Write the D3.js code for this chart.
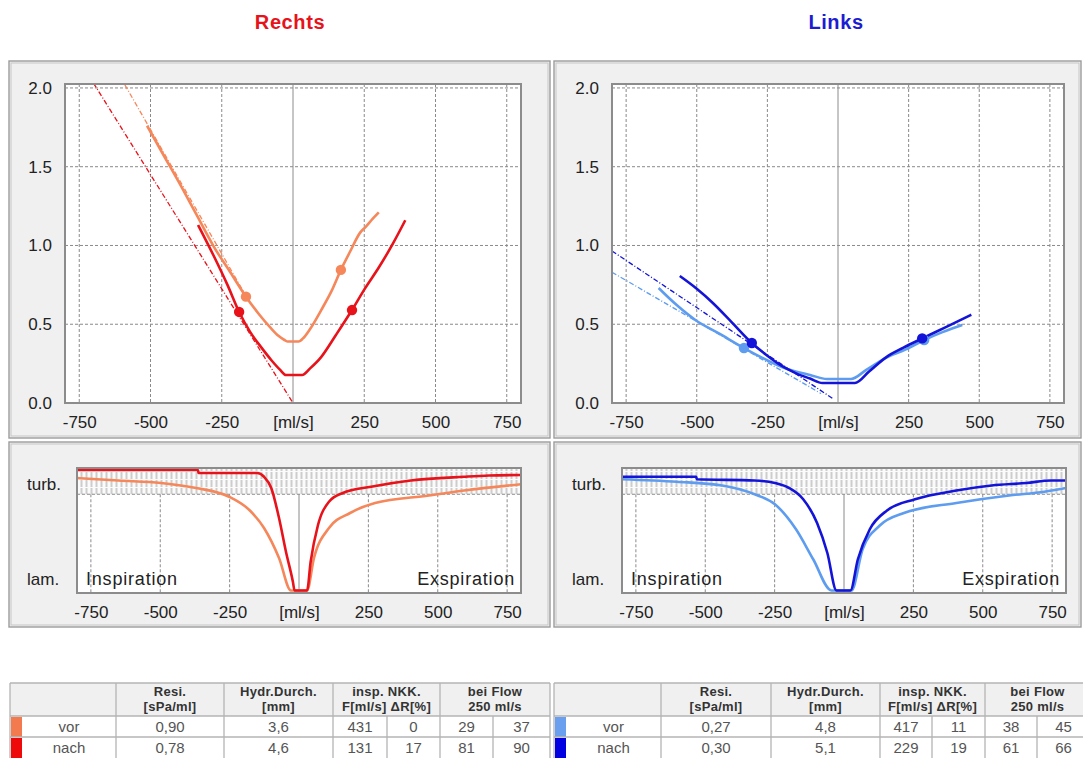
<!DOCTYPE html>
<html>
<head>
<meta charset="utf-8">
<script src="https://cdn.jsdelivr.net/npm/d3@7"></script>
<style>
  body { margin: 0; background: #fff; }
  svg { display: block; font-family: "Liberation Sans", Arial, sans-serif; }
</style>
</head>
<body>
<svg id="chart" width="1083" height="758"></svg>
<script>
// ---- axis ticks -------------------------------------------------------
const flowTicks = [-750, -500, -250, 0, 250, 500, 750];
const resTicks = [0, 0.5, 1.0, 1.5, 2.0];
const turbTicks = [0.11, 0.87];
const turbTickLabels = ["lam.", "turb."];
const turbBandFrom = 0.79;

// ---- Rechts: resistance [flow, value] --------------------------------
const rechtsVorCurve = [[-512,1.76],[-450,1.56],[-400,1.40],[-340,1.20],[-277,0.99],[-220,0.83],[-165,0.675],[-120,0.565],[-80,0.48],[-50,0.425],[-30,0.40],[-18,0.39],[20,0.39],[35,0.41],[60,0.47],[99,0.59],[135,0.71],[168,0.845],[200,0.96],[235,1.08],[256,1.12],[280,1.17],[301,1.21]];
const rechtsNachCurve = [[-333,1.13],[-277,0.93],[-230,0.75],[-189,0.578],[-150,0.45],[-110,0.35],[-75,0.27],[-45,0.21],[-25,0.178],[32,0.178],[60,0.22],[98,0.29],[150,0.43],[207,0.59],[250,0.72],[301,0.86],[350,1.01],[394,1.16]];
const rechtsVorMarks = [[-165,0.675],[168,0.845]];
const rechtsNachMarks = [[-189,0.578],[207,0.59]];
const rechtsVorFit = [[-590,2.02],[-151,0.635]];
const rechtsNachFit = [[-700,2.03],[0,0]];

// ---- Rechts: turbulence [flow, fraction] -----------------------------
const rechtsVorTurb = [[-800,0.92],[-650,0.90],[-497,0.88],[-371,0.84],[-252,0.77],[-177,0.66],[-126,0.52],[-72,0.28],[-29,0.02],[29,0.02],[54,0.28],[108,0.52],[184,0.64],[274,0.72],[468,0.78],[595,0.82],[800,0.87]];
const rechtsNachTurb = [[-800,0.984],[-364,0.984],[-362,0.96],[-151,0.96],[-126,0.93],[-100,0.84],[-72,0.60],[-47,0.33],[-22,0.09],[-16,0.02],[29,0.02],[42,0.25],[68,0.54],[108,0.73],[158,0.80],[260,0.85],[403,0.90],[595,0.93],[685,0.94],[800,0.944]];

// ---- Links: resistance -------------------------------------------------
const linksVorCurve = [[-635,0.73],[-570,0.62],[-505,0.527],[-420,0.44],[-333,0.349],[-260,0.28],[-199,0.229],[-150,0.20],[-99,0.178],[-39,0.152],[46,0.152],[100,0.21],[170,0.286],[240,0.34],[305,0.40],[370,0.45],[440,0.495]];
const linksNachCurve = [[-560,0.806],[-500,0.725],[-443,0.635],[-380,0.52],[-305,0.381],[-250,0.30],[-199,0.235],[-150,0.19],[-99,0.155],[-55,0.127],[60,0.127],[110,0.20],[170,0.29],[230,0.35],[298,0.41],[380,0.48],[472,0.56]];
const linksVorMarks = [[-333,0.349],[305,0.40]];
const linksNachMarks = [[-305,0.381],[298,0.41]];
const linksVorFit = [[-800,0.83],[-60,0.06]];
const linksNachFit = [[-800,0.965],[-20,0.03]];

// ---- Links: turbulence ------------------------------------------------
const linksVorTurb = [[-800,0.91],[-603,0.89],[-439,0.86],[-322,0.79],[-249,0.71],[-173,0.51],[-111,0.27],[-45,0.02],[27,0.02],[67,0.35],[129,0.54],[216,0.64],[405,0.72],[595,0.78],[722,0.81],[800,0.84]];
const linksNachTurb = [[-800,0.93],[-533,0.93],[-530,0.91],[-322,0.90],[-249,0.88],[-198,0.84],[-147,0.75],[-97,0.56],[-60,0.32],[-27,0.02],[23,0.02],[50,0.27],[93,0.51],[155,0.66],[256,0.75],[405,0.82],[532,0.86],[657,0.88],[747,0.90],[800,0.90]];

// ---- summary tables ----------------------------------------------------
const tableHeaders = [["Resi.", "[sPa/ml]"], ["Hydr.Durch.", "[mm]"], ["insp. NKK.", "F[ml/s] \u0394R[%]"], ["bei Flow", "250 ml/s"]];
const rowLabels = ["vor", "nach"];
const rechtsTable = [["0,90", "3,6", "431", "0", "29", "37"], ["0,78", "4,6", "131", "17", "81", "90"]];
const linksTable = [["0,27", "4,8", "417", "11", "38", "45"], ["0,30", "5,1", "229", "19", "61", "66"]];

const svg = d3.select("#chart");
const defs = svg.append("defs");

// vertical hatch for the turbulent band
const hatch = defs.append("pattern").attr("id", "hatch")
  .attr("patternUnits", "userSpaceOnUse").attr("width", 5).attr("height", 8);
hatch.append("rect").attr("width", 5).attr("height", 8).attr("fill", "#fbfbfb");
hatch.append("rect").attr("x", 0.5).attr("y", 0).attr("width", 2).attr("height", 7)
  .attr("fill", "#cdcdcd");

const sides = [
  {
    id: "r", title: "Rechts", titleColor: "#e8121a", titleX: 290,
    frameX: 9, frameW: 541,
    top: [65, 521], bot: [77, 521],
    vorColor: "#f5875a", nachColor: "#e8121a",
    vorCurve: rechtsVorCurve, nachCurve: rechtsNachCurve,
    vorMarks: rechtsVorMarks, nachMarks: rechtsNachMarks,
    vorFit: rechtsVorFit, nachFit: rechtsNachFit,
    vorTurb: rechtsVorTurb, nachTurb: rechtsNachTurb,
    table: rechtsTable, cols: [10, 116, 224, 333, 387, 440, 493, 550],
    stripVor: "#f27a4e", stripNach: "#ee0a0a"
  },
  {
    id: "l", title: "Links", titleColor: "#1c1cd0", titleX: 836,
    frameX: 554, frameW: 527,
    top: [612, 1064], bot: [622, 1066],
    vorColor: "#5e9cf0", nachColor: "#1414d8",
    vorCurve: linksVorCurve, nachCurve: linksNachCurve,
    vorMarks: linksVorMarks, nachMarks: linksNachMarks,
    vorFit: linksVorFit, nachFit: linksNachFit,
    vorTurb: linksVorTurb, nachTurb: linksNachTurb,
    table: linksTable, cols: [554, 661, 771, 880, 932, 985, 1037, 1090],
    stripVor: "#6a9ff0", stripNach: "#0000e0"
  }
];

function frame(g, x, y, w, h) {
  g.append("rect").attr("x", x).attr("y", y).attr("width", w).attr("height", h)
    .attr("fill", "#f0f0f0").attr("stroke", "#9c9c9c").attr("stroke-width", 1.4);
  g.append("rect").attr("x", x + 2).attr("y", y + 2).attr("width", w - 4).attr("height", h - 4)
    .attr("fill", "none").attr("stroke", "#c6c6c6").attr("stroke-width", 1);
}

const TOP_Y0 = 84, TOP_Y1 = 403, BOT_Y0 = 468, BOT_Y1 = 593;

sides.forEach(s => {
  const g = svg.append("g");

  // title
  g.append("text").attr("x", s.titleX).attr("y", 29).attr("text-anchor", "middle")
    .attr("font-size", 20).attr("font-weight", "bold").attr("letter-spacing", 0.6)
    .attr("fill", s.titleColor).text(s.title);

  // ================= resistance plot =================
  frame(g, s.frameX, 61, s.frameW, 377);
  const x = d3.scaleLinear().domain([-800, 800]).range(s.top);
  const y = d3.scaleLinear().domain([0, 2.025]).range([TOP_Y1, TOP_Y0]);

  g.append("rect").attr("x", s.top[0]).attr("y", TOP_Y0)
    .attr("width", s.top[1] - s.top[0]).attr("height", TOP_Y1 - TOP_Y0).attr("fill", "#fff");

  const clipId = "clip-top-" + s.id;
  defs.append("clipPath").attr("id", clipId).append("rect")
    .attr("x", s.top[0]).attr("y", TOP_Y0).attr("width", s.top[1] - s.top[0]).attr("height", TOP_Y1 - TOP_Y0);

  const grid = g.append("g");
  grid.selectAll(".hg").data(resTicks.filter(d => d > 0)).join("line")
    .attr("x1", s.top[0]).attr("x2", s.top[1]).attr("y1", d => y(d)).attr("y2", d => y(d))
    .attr("stroke", "#8a8a8a").attr("stroke-width", 1).attr("stroke-dasharray", "3,2");
  grid.selectAll(".vg").data(flowTicks).join("line")
    .attr("x1", d => x(d)).attr("x2", d => x(d)).attr("y1", TOP_Y0).attr("y2", TOP_Y1)
    .attr("stroke", d => d === 0 ? "#8c8c8c" : "#8a8a8a").attr("stroke-width", 1)
    .attr("stroke-dasharray", d => d === 0 ? null : "3,2");

  const plot = g.append("g").attr("clip-path", `url(#${clipId})`);
  const line = d3.line().x(d => x(d[0])).y(d => y(d[1])).curve(d3.curveMonotoneX);
  const fitLine = d3.line().x(d => x(d[0])).y(d => y(d[1]));

  plot.append("path").datum(s.vorFit).attr("d", fitLine).attr("fill", "none")
    .attr("stroke", s.vorColor).attr("stroke-width", 1.3).attr("stroke-dasharray", "5,2,1,2");
  plot.append("path").datum(s.nachFit).attr("d", fitLine).attr("fill", "none")
    .attr("stroke", s.nachColor).attr("stroke-width", 1.3).attr("stroke-dasharray", "5,2,1,2");

  plot.append("path").datum(s.vorCurve).attr("d", line).attr("fill", "none")
    .attr("stroke", s.vorColor).attr("stroke-width", 2.6).attr("stroke-linejoin", "round");
  plot.append("path").datum(s.nachCurve).attr("d", line).attr("fill", "none")
    .attr("stroke", s.nachColor).attr("stroke-width", 2.6).attr("stroke-linejoin", "round");

  plot.selectAll(".mv").data(s.vorMarks).join("circle")
    .attr("cx", d => x(d[0])).attr("cy", d => y(d[1])).attr("r", 5.2).attr("fill", s.vorColor);
  plot.selectAll(".mn").data(s.nachMarks).join("circle")
    .attr("cx", d => x(d[0])).attr("cy", d => y(d[1])).attr("r", 5.2).attr("fill", s.nachColor);

  g.append("rect").attr("x", s.top[0]).attr("y", TOP_Y0)
    .attr("width", s.top[1] - s.top[0]).attr("height", TOP_Y1 - TOP_Y0)
    .attr("fill", "none").attr("stroke", "#8c8c8c").attr("stroke-width", 2);

  const yAxis = g.append("g").attr("transform", `translate(${s.top[0]},0)`)
    .call(d3.axisLeft(y).tickValues(resTicks).tickFormat(d3.format(".1f")).tickSize(0).tickPadding(13));
  const xAxis = g.append("g").attr("transform", `translate(0,${TOP_Y1})`)
    .call(d3.axisBottom(x).tickValues(flowTicks).tickFormat(d => d === 0 ? "[ml/s]" : d).tickSize(0).tickPadding(13));
  [yAxis, xAxis].forEach(a => {
    a.select(".domain").remove();
    a.selectAll("text").attr("font-size", 17).attr("fill", "#222")
      .attr("font-family", "\"Liberation Sans\", Arial, sans-serif");
  });

  // ================= turbulence plot =================
  frame(g, s.frameX, 442, s.frameW, 185);
  const xb = d3.scaleLinear().domain([-800, 800]).range(s.bot);
  const yb = d3.scaleLinear().domain([0, 1]).range([BOT_Y1, BOT_Y0]);

  g.append("rect").attr("x", s.bot[0]).attr("y", BOT_Y0)
    .attr("width", s.bot[1] - s.bot[0]).attr("height", BOT_Y1 - BOT_Y0).attr("fill", "#fff");
  g.append("rect").attr("x", s.bot[0]).attr("y", BOT_Y0)
    .attr("width", s.bot[1] - s.bot[0]).attr("height", yb(turbBandFrom) - BOT_Y0).attr("fill", "url(#hatch)");
  g.append("line").attr("x1", s.bot[0]).attr("x2", s.bot[1])
    .attr("y1", yb(turbBandFrom)).attr("y2", yb(turbBandFrom))
    .attr("stroke", "#8a8a8a").attr("stroke-dasharray", "3,2");
  g.selectAll(null).data(flowTicks).join("line")
    .attr("x1", d => xb(d)).attr("x2", d => xb(d)).attr("y1", yb(turbBandFrom)).attr("y2", BOT_Y1)
    .attr("stroke", "#8a8a8a").attr("stroke-width", 1)
    .attr("stroke-dasharray", d => d === 0 ? null : "3,2");

  const clipB = "clip-bot-" + s.id;
  defs.append("clipPath").attr("id", clipB).append("rect")
    .attr("x", s.bot[0]).attr("y", BOT_Y0).attr("width", s.bot[1] - s.bot[0]).attr("height", BOT_Y1 - BOT_Y0);
  const tplot = g.append("g").attr("clip-path", `url(#${clipB})`);

  tplot.append("text").attr("x", s.bot[0] + 9).attr("y", 585).attr("font-size", 18)
    .attr("letter-spacing", 0.8).attr("fill", "#222").text("Inspiration");
  tplot.append("text").attr("x", s.bot[1] - 6).attr("y", 585).attr("font-size", 18)
    .attr("letter-spacing", 0.8).attr("text-anchor", "end").attr("fill", "#222").text("Exspiration");

  const tline = d3.line().x(d => xb(d[0])).y(d => yb(d[1])).curve(d3.curveMonotoneX);
  tplot.append("path").datum(s.vorTurb).attr("d", tline).attr("fill", "none")
    .attr("stroke", s.vorColor).attr("stroke-width", 2.6).attr("stroke-linejoin", "round");
  tplot.append("path").datum(s.nachTurb).attr("d", tline).attr("fill", "none")
    .attr("stroke", s.nachColor).attr("stroke-width", 2.6).attr("stroke-linejoin", "round");

  g.append("rect").attr("x", s.bot[0]).attr("y", BOT_Y0)
    .attr("width", s.bot[1] - s.bot[0]).attr("height", BOT_Y1 - BOT_Y0)
    .attr("fill", "none").attr("stroke", "#8c8c8c").attr("stroke-width", 2);

  const ybAxis = g.append("g").attr("transform", `translate(${s.frameX + 18},0)`)
    .call(d3.axisRight(yb).tickValues(turbTicks).tickFormat((d, i) => turbTickLabels[i]).tickSize(0).tickPadding(0));
  const xbAxis = g.append("g").attr("transform", `translate(0,${BOT_Y1})`)
    .call(d3.axisBottom(xb).tickValues(flowTicks).tickFormat(d => d === 0 ? "[ml/s]" : d).tickSize(0).tickPadding(13));
  [ybAxis, xbAxis].forEach(a => {
    a.select(".domain").remove();
    a.selectAll("text").attr("font-size", 17).attr("fill", "#222")
      .attr("font-family", "\"Liberation Sans\", Arial, sans-serif");
  });

  // ================= table =================
  const c = s.cols;
  const T0 = 683, H1 = 716, R1 = 737, R2 = 758;
  const tg = g.append("g");
  tg.append("rect").attr("x", c[0]).attr("y", T0).attr("width", c[7] - c[0]).attr("height", H1 - T0)
    .attr("fill", "#f0f0f0");
  tg.append("rect").attr("x", c[0]).attr("y", H1).attr("width", c[7] - c[0]).attr("height", R2 - H1)
    .attr("fill", "#fff");
  // colour keys
  tg.append("rect").attr("x", c[0] + 1).attr("y", H1 + 1).attr("width", 11).attr("height", R1 - H1 - 1).attr("fill", s.stripVor);
  tg.append("rect").attr("x", c[0] + 1).attr("y", R1 + 1).attr("width", 11).attr("height", R2 - R1).attr("fill", s.stripNach);

  const borderColor = "#b4b4b4";
  [T0, H1, R1].forEach(yy => tg.append("line").attr("x1", c[0]).attr("x2", c[7]).attr("y1", yy).attr("y2", yy)
    .attr("stroke", borderColor).attr("stroke-width", 1.3));
  [0, 1, 2, 3, 5, 7].forEach(i => tg.append("line").attr("x1", c[i]).attr("x2", c[i]).attr("y1", T0).attr("y2", R2 + 2)
    .attr("stroke", borderColor).attr("stroke-width", 1.3));
  [4, 6].forEach(i => tg.append("line").attr("x1", c[i]).attr("x2", c[i]).attr("y1", H1).attr("y2", R2 + 2)
    .attr("stroke", borderColor).attr("stroke-width", 1.3));

  const headerCenters = [(c[1] + c[2]) / 2, (c[2] + c[3]) / 2, (c[3] + c[5]) / 2, (c[5] + c[7]) / 2];
  tableHeaders.forEach((h, i) => {
    tg.append("text").attr("x", headerCenters[i]).attr("y", 696).attr("text-anchor", "middle")
      .attr("font-size", 13).attr("font-weight", "bold").attr("letter-spacing", 0.3).attr("fill", "#333").text(h[0]);
    tg.append("text").attr("x", headerCenters[i]).attr("y", 711).attr("text-anchor", "middle")
      .attr("font-size", 13).attr("font-weight", "bold").attr("letter-spacing", 0.3).attr("fill", "#333").text(h[1]);
  });

  const cellCenters = d3.range(1, 7).map(i => (c[i] + c[i + 1]) / 2);
  [H1, R1].forEach((top, r) => {
    const cy = top + 16;
    tg.append("text").attr("x", (c[0] + c[1]) / 2 + 6).attr("y", cy).attr("text-anchor", "middle")
      .attr("font-size", 15).attr("fill", "#555").text(rowLabels[r]);
    s.table[r].forEach((v, i) => {
      tg.append("text").attr("x", cellCenters[i]).attr("y", cy).attr("text-anchor", "middle")
        .attr("font-size", 15).attr("fill", "#555").text(v);
    });
  });
});
</script>
</body>
</html>
